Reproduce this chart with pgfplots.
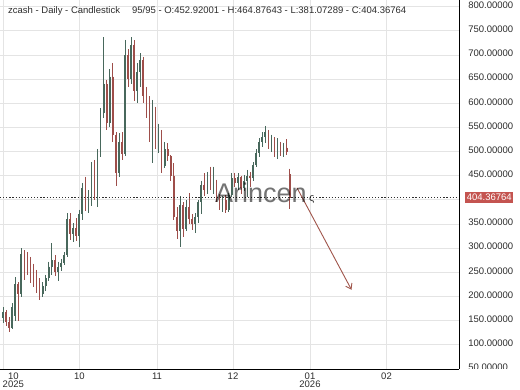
\documentclass[border=0pt]{standalone}
\usepackage{fontspec}
\setmainfont{Liberation Sans}
\usepackage{pgfplots}
\pgfplotsset{compat=1.18}
\usepackage{pgfplotstable}
\usetikzlibrary{arrows.meta}
\definecolor{upc}{RGB}{72,104,92}
\definecolor{dnc}{RGB}{158,78,74}
\definecolor{gridc}{RGB}{228,228,228}
\definecolor{boxc}{RGB}{196,84,80}
\definecolor{arrc}{RGB}{160,85,75}
\definecolor{txtc}{RGB}{45,45,45}

\pgfplotstableread{
x o h l c
3.0 155 178 145 168
6.1 168 172 140 148
9.1 148 158 126 135
12.2 135 186 132 178
15.2 160 240 150 225
18.3 225 230 150 205
21.3 205 300 200 288
24.4 288 296 235 265
27.4 265 292 245 252
30.5 252 282 228 240
33.5 240 268 220 232
36.6 232 255 208 215
39.6 215 238 192 205
42.7 205 230 200 222
45.7 222 245 212 238
48.8 238 272 232 262
51.8 262 310 245 275
54.9 275 285 242 250
57.9 250 272 232 262
61.0 262 278 252 270
64.0 270 292 266 285
67.1 285 372 282 360
70.1 360 372 318 330
73.2 330 352 312 342
76.2 342 362 315 325
79.3 325 380 302 370
82.3 370 435 358 425
85.4 425 448 378 392
88.4 392 420 372 410
91.5 410 478 388 462
94.5 462 483 400 420
97.6 420 505 385 492
100.6 492 590 488 580
103.7 580 737 570 640
106.7 640 648 544 560
109.8 560 670 550 655
112.8 655 683 520 535
115.9 535 540 428 455
118.9 455 538 448 520
122.0 520 540 482 495
125.0 495 731 490 700
128.1 700 712 634 650
131.1 650 737 640 720
134.2 720 730 605 625
137.2 625 683 600 665
140.3 665 703 634 690
143.3 690 696 600 615
146.4 615 634 570 585
149.4 585 614 520 535
152.5 535 607 476 590
155.5 590 593 505 520
158.6 520 558 496 540
161.6 540 545 455 470
164.7 470 520 465 505
167.7 505 517 480 490
170.8 490 492 440 450
173.8 450 476 358 365
176.9 365 385 320 335
179.9 335 408 302 390
183.0 390 395 323 340
186.0 340 399 335 385
189.1 385 414 350 360
192.1 360 370 337 350
195.2 350 372 331 365
198.2 365 400 352 395
201.3 395 440 370 430
204.3 430 455 408 420
207.4 420 458 413 450
210.4 450 469 420 430
213.5 430 469 413 440
216.5 440 442 395 400
219.6 400 413 379 390
222.6 390 408 375 400
225.7 400 410 372 380
228.7 380 415 375 410
231.8 410 455 405 445
234.8 445 456 427 435
237.9 435 455 420 448
240.9 448 450 413 425
244.0 425 452 418 440
247.0 440 462 406 450
250.1 450 458 427 445
253.1 445 478 440 472
256.2 472 505 468 498
259.2 498 528 489 520
262.3 520 540 510 530
265.3 530 553 518 540
268.4 540 545 505 515
271.4 515 535 500 525
274.5 525 530 488 495
277.5 495 528 485 518
280.6 518 520 490 500
283.6 500 518 488 508
286.7 508 525 492 500
289.7 452.92001 464.87643 381.07289 404.36764
}\bars

\begin{document}
\begin{tikzpicture}[x=1pt,y=1pt]
\fill[white] (0pt,0pt) rectangle (520pt,390pt);
\path[use as bounding box] (0pt,0pt) rectangle (520pt,390pt);
\begin{axis}[
  at={(0pt,21pt)}, anchor=south west,
  scale only axis, width=459pt, height=369pt,
  xmin=0, xmax=459, ymin=50, ymax=813.7,
  axis x line=bottom, axis y line=right,
  axis line style={-, black, line width=0.9pt},
  major tick length=0pt,
  grid=major, grid style={gridc, line width=0.8pt},
  xtick={3,79.5,157,233,310,386.5},
  xticklabels={,10,11,12,{01\\2026},02},
  xticklabel style={align=center, text=txtc, font=\fontsize{9.5}{8.5}\selectfont},
  ytick={100,150,...,800},
  yticklabel style={anchor=west, xshift=5.8pt, yshift=1.5pt, text=txtc,
    font=\fontsize{9.5}{11}\selectfont,
    /pgf/number format/fixed, /pgf/number format/fixed zerofill,
    /pgf/number format/precision=5, /pgf/number format/1000 sep={},
    /pgf/number format/assume math mode=true},
  extra y ticks={404.36764},
  extra y tick labels={404.36764},
  extra y tick style={grid=none, yticklabel style={fill=boxc, text=white, inner xsep=1.5pt, inner ysep=1.8pt, xshift=0.3pt, yshift=-1.2pt}},
]
% wicks
\addplot[draw=none, mark=none, forget plot,
  restrict expr to domain={\thisrow{c}-\thisrow{o}}{0:100000},
  error bars/.cd, y dir=minus, y explicit, error mark=none,
  error bar style={draw=upc, line width=0.8pt}]
  table[x=x, y=h, y error minus expr=\thisrow{h}-\thisrow{l}] {\bars};
\addplot[draw=none, mark=none, forget plot,
  restrict expr to domain={\thisrow{c}-\thisrow{o}}{-100000:-0.0001},
  error bars/.cd, y dir=minus, y explicit, error mark=none,
  error bar style={draw=dnc, line width=0.8pt}]
  table[x=x, y=h, y error minus expr=\thisrow{h}-\thisrow{l}] {\bars};
% bodies
\addplot[draw=none, mark=none, forget plot,
  restrict expr to domain={\thisrow{c}-\thisrow{o}}{0:100000},
  error bars/.cd, y dir=minus, y explicit, error mark=none,
  error bar style={draw=upc, line width=1.7pt}]
  table[x=x, y=c, y error minus expr=\thisrow{c}-\thisrow{o}] {\bars};
\addplot[draw=none, mark=none, forget plot,
  restrict expr to domain={\thisrow{c}-\thisrow{o}}{-100000:-0.0001},
  error bars/.cd, y dir=minus, y explicit, error mark=none,
  error bar style={draw=dnc, line width=1.7pt}]
  table[x=x, y=o, y error minus expr=\thisrow{o}-\thisrow{c}] {\bars};
% last price line
\addplot[txtc, line width=1.1pt, dash pattern=on 1.2pt off 1.9pt, forget plot]
  coordinates {(0,404.36764) (459,404.36764)};
% arrow
\addplot[arrc, line width=0.9pt, -{Straight Barb[length=5pt,width=7pt]}, forget plot]
  coordinates {(297,425) (351.5,214)};
\end{axis}
% watermark
\node[anchor=base west, inner sep=0, font=\fontsize{27}{30}\selectfont, text=black, opacity=0.55] at (215pt,187pt) {Arincen};
\node[anchor=base west, inner sep=0, font=\fontsize{11}{12}\selectfont, text=black, opacity=0.8] at (309pt,188pt) {ς};
% title
\node[anchor=base west, inner sep=0, font=\fontsize{9.5}{11}\selectfont, text=txtc] at (8pt,376pt)
  {zcash - Daily - Candlestick\hspace{12pt}95/95 - O:452.92001 - H:464.87643 - L:381.07289 - C:404.36764};
% first date label
\node[anchor=north, align=center, text=txtc, font=\fontsize{9.5}{8.5}\selectfont] at (13.3pt,21pt) {10\\2025};
% clipped bottom tick label
\begin{scope}
\clip (459pt,21pt) rectangle (520pt,390pt);
\node[anchor=west, text=txtc, font=\fontsize{9.5}{11}\selectfont] at (464.8pt,22.5pt) {50.00000};
\end{scope}
\end{tikzpicture}
\end{document}
